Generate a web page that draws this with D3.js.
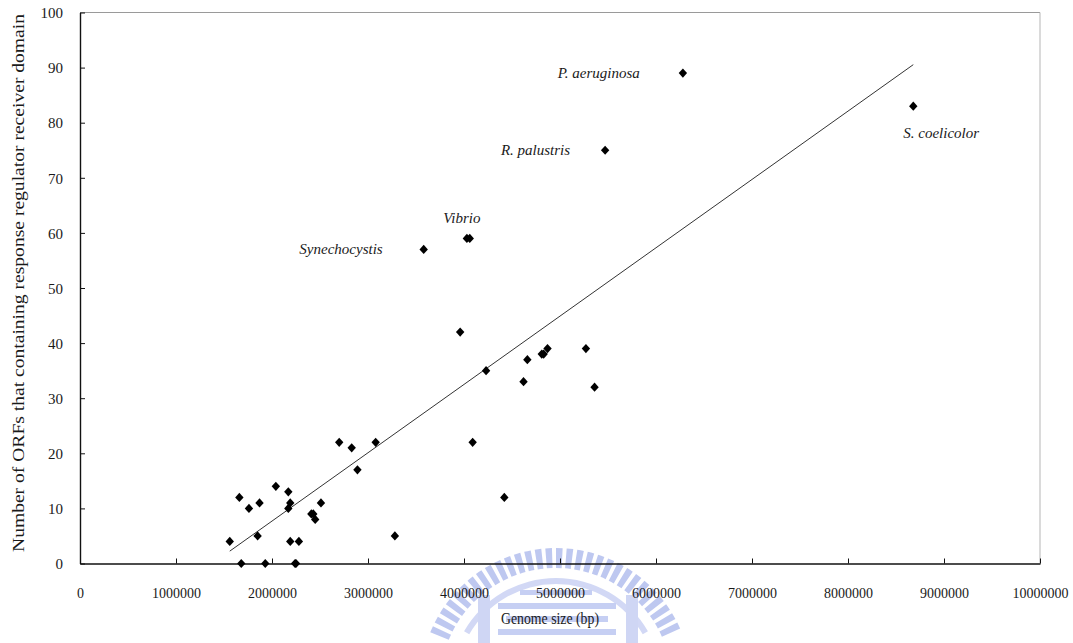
<!DOCTYPE html>
<html>
<head>
<meta charset="utf-8">
<script src="https://cdn.jsdelivr.net/npm/d3@7"></script>
<style>
  html, body { margin: 0; padding: 0; background: #fff; }
  svg { display: block; }
  text { font-family: "Liberation Serif", "Times New Roman", serif; fill: #1a1a1a; }
</style>
</head>
<body>
<svg id="chart" width="1073" height="643"></svg>
<script>
// Genome size (bp) of each organism
const genomeSize = [
  1560000, 1660000, 1760000, 1870000, 1850000, 2040000, 2170000, 2190000,
  2170000, 2190000, 2280000, 2510000, 2410000, 2430000, 2450000, 2700000,
  2830000, 3080000, 2890000, 3280000, 1680000, 1930000, 2240000, 2250000,
  3580000, 4030000, 4060000, 3960000, 4230000, 4620000, 4660000, 4810000,
  4830000, 4870000, 5270000, 5360000, 4090000, 4420000, 5470000, 6280000,
  8680000
];
// ORFs containing a response regulator receiver domain
const rrCount = [
  4, 12, 10, 11, 5, 14, 13, 11,
  10, 4, 4, 11, 9, 9, 8, 22,
  21, 22, 17, 5, 0, 0, 0, 0,
  57, 59, 59, 42, 35, 33, 37, 38,
  38, 39, 39, 32, 22, 12, 75, 89,
  83
];
// Named organisms and the point each name belongs to
const labelNames = ["Synechocystis", "Vibrio", "R. palustris", "P. aeruginosa", "S. coelicolor"];
const labelIndex = [24, 25, 38, 39, 40];

// Linear trend (count per bp, intercept)
const trendSlope = 12.4e-6;
const trendIntercept = -17.1;

const xTicks = [0, 1000000, 2000000, 3000000, 4000000, 5000000, 6000000, 7000000, 8000000, 9000000, 10000000];
const yTicks = [0, 10, 20, 30, 40, 50, 60, 70, 80, 90, 100];

const svg = d3.select("#chart");
const plotLeft = 80, plotRight = 1040, plotTop = 12.5, plotBottom = 563.5;

const x = d3.scaleLinear().domain([0, 10000000]).range([plotLeft, plotRight]);
const y = d3.scaleLinear().domain([0, 100]).range([plotBottom, plotTop]);

// faint seal in the background under the x-axis title
const seal = svg.append("g").attr("opacity", 0.75);
const nSeg = 30;
for (let i = 0; i < nSeg; i++) {
  const a0 = -1.18 + i * (2.36 / nSeg);
  seal.append("path")
    .attr("transform", "translate(556,684)")
    .attr("d", d3.arc().innerRadius(116).outerRadius(136).startAngle(a0).endAngle(a0 + 2.36 / nSeg * 0.62)())
    .attr("fill", "#a9b6ec");
}
seal.append("path")
  .attr("transform", "translate(556,684)")
  .attr("d", d3.arc().innerRadius(100).outerRadius(106).startAngle(-1.05).endAngle(1.05)())
  .attr("fill", "#c3ccf2");
[[498, 603, 118, 6], [506, 616, 102, 6], [498, 629, 118, 6], [520, 590, 72, 5]].forEach(r => {
  seal.append("rect").attr("x", r[0]).attr("y", r[1]).attr("width", r[2]).attr("height", r[3]).attr("fill", "#b4c0ef");
});
[[478, 595, 12, 48], [626, 595, 12, 48]].forEach(r => {
  seal.append("rect").attr("x", r[0]).attr("y", r[1]).attr("width", r[2]).attr("height", r[3]).attr("fill", "#bfc9f1");
});

// plot frame (top and right)
svg.append("line").attr("x1", plotLeft).attr("x2", plotRight).attr("y1", plotTop).attr("y2", plotTop)
  .attr("stroke", "#9a9a9a").attr("stroke-width", 1.2);
svg.append("line").attr("x1", plotRight).attr("x2", plotRight).attr("y1", plotTop).attr("y2", plotBottom)
  .attr("stroke", "#b5b5b5").attr("stroke-width", 1);

// x axis: ticks point inward
const xAxis = svg.append("g").attr("transform", `translate(0,${plotBottom})`)
  .call(d3.axisBottom(x).tickValues(xTicks).tickSizeInner(-5).tickSizeOuter(0).tickFormat(d3.format("d")));
xAxis.select(".domain").attr("stroke", "#111").attr("stroke-width", 1.4);
xAxis.selectAll(".tick line").attr("stroke", "#111");
xAxis.selectAll(".tick text").attr("y", 34).attr("dy", 0).attr("font-size", 14)
  .attr("font-family", "Liberation Serif, serif").attr("fill", "#1a1a1a");

// y axis: ticks point inward
const yAxis = svg.append("g").attr("transform", `translate(${plotLeft},0)`)
  .call(d3.axisLeft(y).tickValues(yTicks).tickSizeInner(-5).tickSizeOuter(0));
yAxis.select(".domain").attr("stroke", "#111").attr("stroke-width", 1.4);
yAxis.selectAll(".tick line").attr("stroke", "#111");
yAxis.selectAll(".tick text").attr("x", -17).attr("dy", "0.35em").attr("font-size", 15)
  .attr("font-family", "Liberation Serif, serif").attr("fill", "#1a1a1a");

// axis titles
svg.append("text")
  .attr("x", 550).attr("y", 624)
  .attr("text-anchor", "middle")
  .attr("font-size", 16)
  .attr("textLength", 98)
  .attr("lengthAdjust", "spacingAndGlyphs")
  .text("Genome size (bp)");

svg.append("text")
  .attr("transform", "translate(24,283) rotate(-90)")
  .attr("text-anchor", "middle")
  .attr("font-size", 16)
  .attr("textLength", 538)
  .attr("lengthAdjust", "spacingAndGlyphs")
  .text("Number of ORFs that containing response regulator receiver domain");

// trend line across the data range
const [xMin, xMax] = d3.extent(genomeSize);
svg.append("line")
  .attr("x1", x(xMin)).attr("y1", y(trendSlope * xMin + trendIntercept))
  .attr("x2", x(xMax)).attr("y2", y(trendSlope * xMax + trendIntercept))
  .attr("stroke", "#333").attr("stroke-width", 1);

// diamond markers
const diamond = "M0,-4.6L4.2,0L0,4.6L-4.2,0Z";
svg.append("g").selectAll("path")
  .data(genomeSize.map((g, i) => [g, rrCount[i]]))
  .join("path")
  .attr("d", diamond)
  .attr("transform", d => `translate(${x(d[0])},${y(d[1])})`)
  .attr("fill", "#000");

// organism names
const labelLayout = {
  "Synechocystis": { dx: -41, dy: 5, anchor: "end" },
  "Vibrio": { dx: -5, dy: -15, anchor: "middle" },
  "R. palustris": { dx: -35, dy: 5, anchor: "end" },
  "P. aeruginosa": { dx: -43, dy: 5, anchor: "end" },
  "S. coelicolor": { dx: -10, dy: 32, anchor: "start" }
};
svg.append("g").selectAll("text")
  .data(labelNames.map((n, i) => ({ name: n, gx: genomeSize[labelIndex[i]], gy: rrCount[labelIndex[i]] })))
  .join("text")
  .attr("x", d => x(d.gx) + labelLayout[d.name].dx)
  .attr("y", d => y(d.gy) + labelLayout[d.name].dy)
  .attr("text-anchor", d => labelLayout[d.name].anchor)
  .attr("font-style", "italic")
  .attr("font-size", 15)
  .text(d => d.name);
</script>
</body>
</html>
